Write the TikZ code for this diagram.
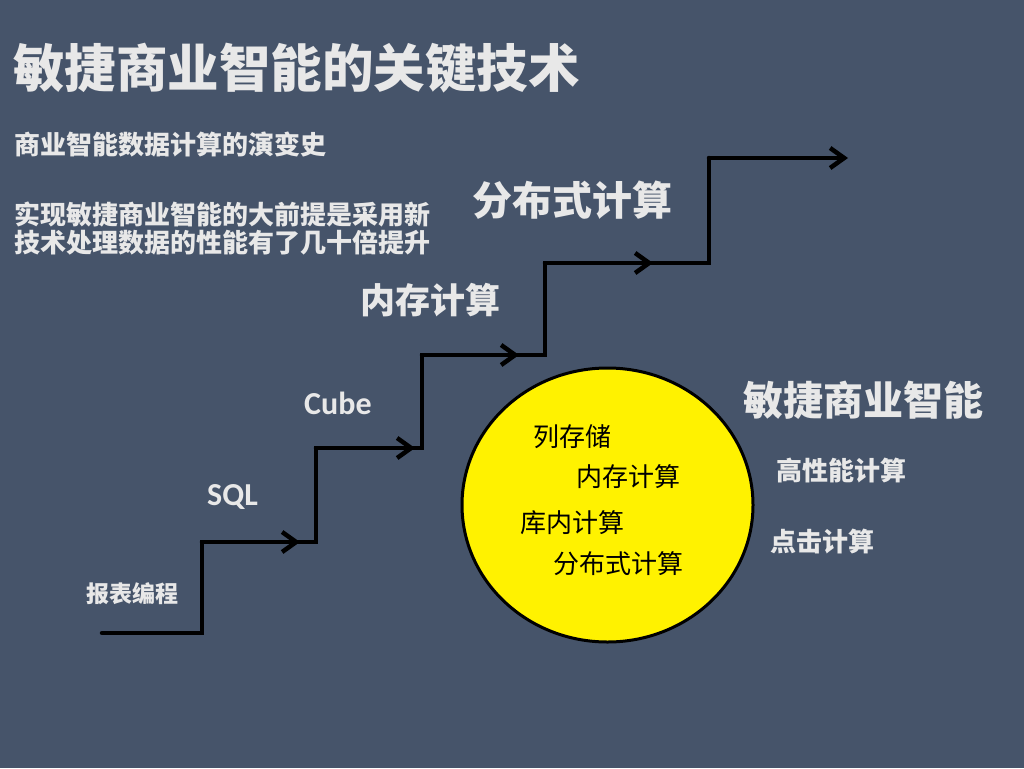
\documentclass[tikz,border=0pt]{standalone}
\usepackage{fontspec}
\usepackage{tikz}
\usetikzlibrary{arrows.meta}
\newfontfamily\cjk{Noto Sans CJK SC}
\newfontfamily\latin{Carlito Bold}
\definecolor{slate}{RGB}{70,84,106}
\definecolor{pale}{RGB}{232,232,232}

\begin{document}
\begin{tikzpicture}[x=1pt,y=-1pt,line cap=round,line join=miter,
  >={Straight Barb[length=14pt,width=20pt]},
  stair/.style={line width=4.5pt,black},
  head/.style={font=\cjk\bfseries\fontsize{26}{28}\selectfont,text=pale,anchor=west,inner sep=0pt,align=left},
  inball/.style={font=\cjk\fontsize{26}{28}\selectfont,text=black,anchor=west,inner sep=0pt}]
\fill[slate] (0,0) rectangle (1024,768);
\useasboundingbox (0,0) rectangle (1024,768);
% titles
\node[head,font=\cjk\bfseries\fontsize{51.5}{56}\selectfont] (title) at (13,68) {敏捷商业智能的关键技术};
\node[head] (sub) at (14,145) {商业智能数据计算的演变史};
\node[head] (note) at (14,228) {实现敏捷商业智能的大前提是采用新\\技术处理数据的性能有了几十倍提升};
% stair corners
\coordinate (s0) at (102,633);
\coordinate (s1) at (202,633);
\coordinate (s2) at (202,542);
\coordinate (t1) at (300,542);
\coordinate (s3) at (316,542);
\coordinate (s4) at (316,448);
\coordinate (t2) at (415,448);
\coordinate (s5) at (422,448);
\coordinate (s6) at (422,355);
\coordinate (t3) at (519,355);
\coordinate (s7) at (545,355);
\coordinate (s8) at (545,263);
\coordinate (t4) at (653,263);
\coordinate (s9) at (709,263);
\coordinate (s10) at (709,158);
\coordinate (t5) at (848,158);
\draw[stair] (s0) -- (s1) -- (s2) -- (s3) -- (s4) -- (s5) -- (s6) -- (s7) -- (s8) -- (s9) -- (s10);
\draw[stair,->] (s2) -- (t1);
\draw[stair,->] (s4) -- (t2);
\draw[stair,->] (s6) -- (t3);
\draw[stair,->] (s8) -- (t4);
\draw[stair,->] (s10) -- (t5);
% step labels
\node[head,font=\cjk\bfseries\fontsize{23}{26}\selectfont] (report) at (86,594) {报表编程};
\node[head,font=\latin\fontsize{32}{34}\selectfont] (sql) at (207,497) {SQL};
\node[head,font=\latin\fontsize{32}{34}\selectfont] (cube) at (304,403) {Cube};
\node[head,font=\cjk\bfseries\fontsize{35}{38}\selectfont] (memory) at (360,300) {内存计算};
\node[head,font=\cjk\bfseries\fontsize{40}{44}\selectfont] (distrib) at (472,200) {分布式计算};
% yellow ball
\coordinate (ball) at (607.5,505);
\draw[fill=yellow,line width=3pt] (ball) ellipse (145.5pt and 137pt);
\node[inball] (colstore) at (533,437) {列存储};
\node[inball] (inmem) at (576,477) {内存计算};
\node[inball] (indb) at (520,523) {库内计算};
\node[inball] (dist) at (553,564) {分布式计算};
% right side
\node[head,font=\cjk\bfseries\fontsize{40}{44}\selectfont] (agile) at (743,400) {敏捷商业智能};
\node[head] (perf) at (776,471) {高性能计算};
\node[head] (click) at (770,542) {点击计算};
\end{tikzpicture}
\end{document}
